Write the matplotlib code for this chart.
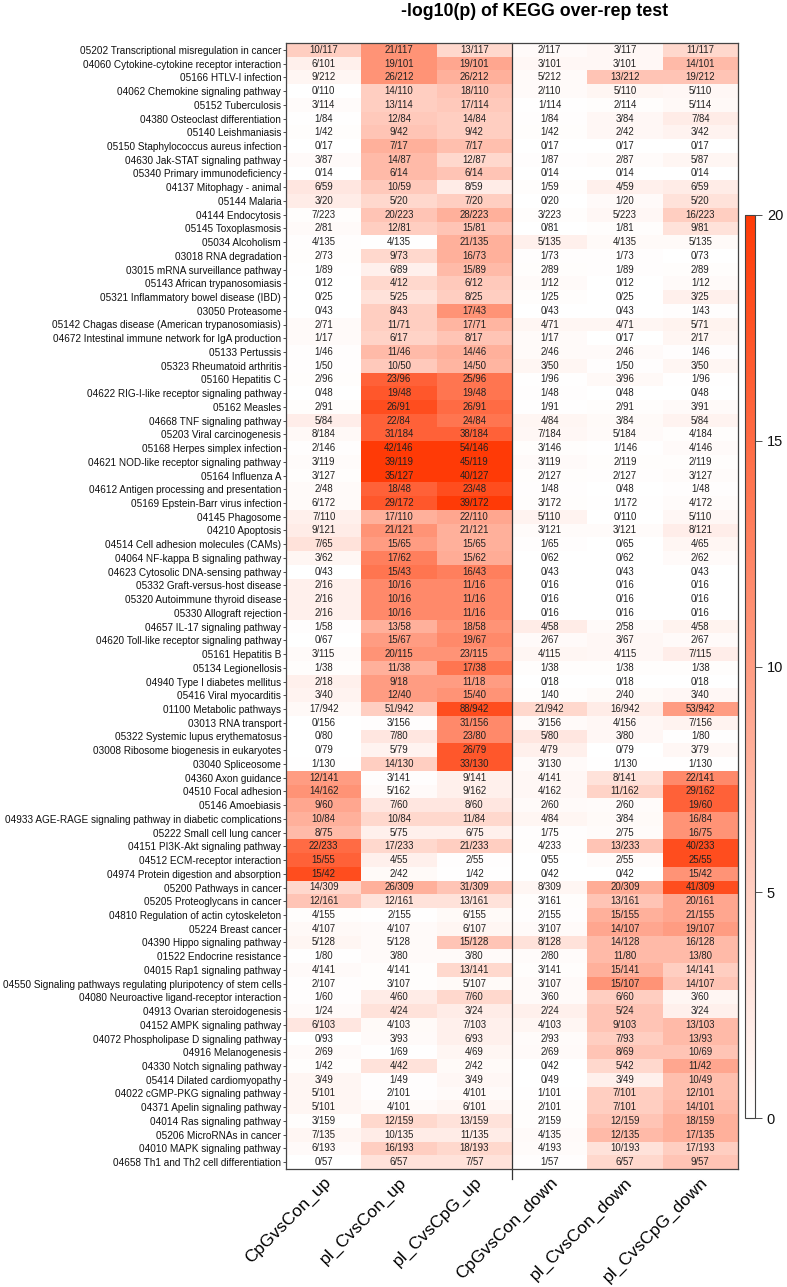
import numpy as np
import matplotlib.pyplot as plt
from matplotlib.colors import LinearSegmentedColormap

plt.rcParams['font.family'] = ['Liberation Sans', 'DejaVu Sans']

# ---- data ----
columns = ["CpGvsCon_up", "pI_CvsCon_up", "pI_CvsCpG_up",
           "CpGvsCon_down", "pI_CvsCon_down", "pI_CvsCpG_down"]

pathways = [
    "05202 Transcriptional misregulation in cancer",
    "04060 Cytokine-cytokine receptor interaction",
    "05166 HTLV-I infection",
    "04062 Chemokine signaling pathway",
    "05152 Tuberculosis",
    "04380 Osteoclast differentiation",
    "05140 Leishmaniasis",
    "05150 Staphylococcus aureus infection",
    "04630 Jak-STAT signaling pathway",
    "05340 Primary immunodeficiency",
    "04137 Mitophagy - animal",
    "05144 Malaria",
    "04144 Endocytosis",
    "05145 Toxoplasmosis",
    "05034 Alcoholism",
    "03018 RNA degradation",
    "03015 mRNA surveillance pathway",
    "05143 African trypanosomiasis",
    "05321 Inflammatory bowel disease (IBD)",
    "03050 Proteasome",
    "05142 Chagas disease (American trypanosomiasis)",
    "04672 Intestinal immune network for IgA production",
    "05133 Pertussis",
    "05323 Rheumatoid arthritis",
    "05160 Hepatitis C",
    "04622 RIG-I-like receptor signaling pathway",
    "05162 Measles",
    "04668 TNF signaling pathway",
    "05203 Viral carcinogenesis",
    "05168 Herpes simplex infection",
    "04621 NOD-like receptor signaling pathway",
    "05164 Influenza A",
    "04612 Antigen processing and presentation",
    "05169 Epstein-Barr virus infection",
    "04145 Phagosome",
    "04210 Apoptosis",
    "04514 Cell adhesion molecules (CAMs)",
    "04064 NF-kappa B signaling pathway",
    "04623 Cytosolic DNA-sensing pathway",
    "05332 Graft-versus-host disease",
    "05320 Autoimmune thyroid disease",
    "05330 Allograft rejection",
    "04657 IL-17 signaling pathway",
    "04620 Toll-like receptor signaling pathway",
    "05161 Hepatitis B",
    "05134 Legionellosis",
    "04940 Type I diabetes mellitus",
    "05416 Viral myocarditis",
    "01100 Metabolic pathways",
    "03013 RNA transport",
    "05322 Systemic lupus erythematosus",
    "03008 Ribosome biogenesis in eukaryotes",
    "03040 Spliceosome",
    "04360 Axon guidance",
    "04510 Focal adhesion",
    "05146 Amoebiasis",
    "04933 AGE-RAGE signaling pathway in diabetic complications",
    "05222 Small cell lung cancer",
    "04151 PI3K-Akt signaling pathway",
    "04512 ECM-receptor interaction",
    "04974 Protein digestion and absorption",
    "05200 Pathways in cancer",
    "05205 Proteoglycans in cancer",
    "04810 Regulation of actin cytoskeleton",
    "05224 Breast cancer",
    "04390 Hippo signaling pathway",
    "01522 Endocrine resistance",
    "04015 Rap1 signaling pathway",
    "04550 Signaling pathways regulating pluripotency of stem cells",
    "04080 Neuroactive ligand-receptor interaction",
    "04913 Ovarian steroidogenesis",
    "04152 AMPK signaling pathway",
    "04072 Phospholipase D signaling pathway",
    "04916 Melanogenesis",
    "04330 Notch signaling pathway",
    "05414 Dilated cardiomyopathy",
    "04022 cGMP-PKG signaling pathway",
    "04371 Apelin signaling pathway",
    "04014 Ras signaling pathway",
    "05206 MicroRNAs in cancer",
    "04010 MAPK signaling pathway",
    "04658 Th1 and Th2 cell differentiation",
]

# pathway size (genes in pathway)
totals = [117, 101, 212, 110, 114, 84, 42, 17, 87, 14, 59, 20, 223, 81, 135,
          73, 89, 12, 25, 43, 71, 17, 46, 50, 96, 48, 91, 84, 184, 146, 119,
          127, 48, 172, 110, 121, 65, 62, 43, 16, 16, 16, 58, 67, 115, 38, 18,
          40, 942, 156, 80, 79, 130, 141, 162, 60, 84, 75, 233, 55, 42, 309,
          161, 155, 107, 128, 80, 141, 107, 60, 24, 103, 93, 69, 42, 49, 101,
          101, 159, 135, 193, 57]

# hits per column
hits = [
    [10, 21, 13, 2, 3, 11],
    [6, 19, 19, 3, 3, 14],
    [9, 26, 26, 5, 13, 19],
    [0, 14, 18, 2, 5, 5],
    [3, 13, 17, 1, 2, 5],
    [1, 12, 14, 1, 3, 7],
    [1, 9, 9, 1, 2, 3],
    [0, 7, 7, 0, 0, 0],
    [3, 14, 12, 1, 2, 5],
    [0, 6, 6, 0, 0, 0],
    [6, 10, 8, 1, 4, 6],
    [3, 5, 7, 0, 1, 5],
    [7, 20, 28, 3, 5, 16],
    [2, 12, 15, 0, 1, 9],
    [4, 4, 21, 5, 4, 5],
    [2, 9, 16, 1, 1, 0],
    [1, 6, 15, 2, 1, 2],
    [0, 4, 6, 1, 0, 1],
    [0, 5, 8, 1, 0, 3],
    [0, 8, 17, 0, 0, 1],
    [2, 11, 17, 4, 4, 5],
    [1, 6, 8, 1, 0, 2],
    [1, 11, 14, 2, 2, 1],
    [1, 10, 14, 3, 1, 3],
    [2, 23, 25, 1, 3, 1],
    [0, 19, 19, 1, 0, 0],
    [2, 26, 26, 1, 2, 3],
    [5, 22, 24, 4, 3, 5],
    [8, 31, 38, 7, 5, 4],
    [2, 42, 54, 3, 1, 4],
    [3, 39, 45, 3, 2, 2],
    [3, 35, 40, 2, 2, 3],
    [2, 18, 23, 1, 0, 1],
    [6, 29, 39, 3, 1, 4],
    [7, 17, 22, 5, 0, 5],
    [9, 21, 21, 3, 3, 8],
    [7, 15, 15, 1, 0, 4],
    [3, 17, 15, 0, 0, 2],
    [0, 15, 16, 0, 0, 0],
    [2, 10, 11, 0, 0, 0],
    [2, 10, 11, 0, 0, 0],
    [2, 10, 11, 0, 0, 0],
    [1, 13, 18, 4, 2, 4],
    [0, 15, 19, 2, 3, 2],
    [3, 20, 23, 4, 4, 7],
    [1, 11, 17, 1, 1, 1],
    [2, 9, 11, 0, 0, 0],
    [3, 12, 15, 1, 2, 3],
    [17, 51, 88, 21, 16, 53],
    [0, 3, 31, 3, 4, 7],
    [0, 7, 23, 5, 3, 1],
    [0, 5, 26, 4, 0, 3],
    [1, 14, 33, 3, 1, 1],
    [12, 3, 9, 4, 8, 22],
    [14, 5, 9, 4, 11, 29],
    [9, 7, 8, 2, 2, 19],
    [10, 10, 11, 4, 3, 16],
    [8, 5, 6, 1, 2, 16],
    [22, 17, 21, 4, 13, 40],
    [15, 4, 2, 0, 2, 25],
    [15, 2, 1, 0, 0, 15],
    [14, 26, 31, 8, 20, 41],
    [12, 12, 13, 3, 13, 20],
    [4, 2, 6, 2, 15, 21],
    [4, 4, 6, 3, 14, 19],
    [5, 5, 15, 8, 14, 16],
    [1, 3, 3, 2, 11, 13],
    [4, 4, 13, 3, 15, 14],
    [2, 3, 5, 3, 15, 14],
    [1, 4, 7, 3, 6, 3],
    [1, 4, 3, 2, 5, 3],
    [6, 4, 7, 4, 9, 13],
    [0, 3, 6, 2, 7, 13],
    [2, 1, 4, 2, 8, 10],
    [1, 4, 2, 0, 5, 11],
    [3, 1, 3, 0, 3, 10],
    [5, 2, 4, 1, 7, 12],
    [5, 4, 6, 2, 7, 14],
    [3, 12, 13, 2, 12, 18],
    [7, 10, 11, 4, 12, 17],
    [6, 16, 18, 4, 10, 17],
    [0, 6, 7, 1, 6, 9],
]

# -log10(p) (capped at 20)
neglogp = [
    [5, 11, 4, 0.5, 0.8, 4],
    [1.5, 11, 9, 0.8, 0.8, 7],
    [1, 11, 8, 0.5, 6, 6],
    [0, 5, 6, 0.5, 1, 0.8],
    [0.4, 5, 5.5, 0.1, 0.3, 0.7],
    [0.1, 5.5, 5, 0.2, 0.8, 2],
    [0.3, 6, 5, 0.3, 0.8, 1.2],
    [0, 8, 6.5, 0, 0, 0],
    [0.5, 7, 4, 0.2, 0.4, 1],
    [0, 7, 6, 0, 0, 0],
    [2.5, 5.5, 2, 0.3, 1.5, 2],
    [2, 4, 5, 0, 0.5, 3],
    [0.3, 6, 8, 0.3, 0.8, 5],
    [0.5, 5, 6, 0, 0.3, 3],
    [0.2, 0.1, 8, 1.5, 0.6, 0.6],
    [0.3, 4, 8, 0.2, 0.2, 0],
    [0.1, 1.5, 7, 0.3, 0.2, 0.3],
    [0, 4, 5.5, 0.5, 0, 0.5],
    [0, 3, 5, 0.3, 0, 1.5],
    [0, 5, 11, 0, 0, 0.2],
    [0.5, 5, 7.5, 1, 1, 1.3],
    [0.5, 4.5, 6, 0.5, 0, 1],
    [0.2, 7, 8, 0.5, 0.5, 0.2],
    [0.2, 5.5, 7.5, 1, 0.2, 1],
    [0.3, 16, 14, 0.1, 0.7, 0.1],
    [0, 17, 14, 0.2, 0, 0],
    [0.3, 18, 15, 0.1, 0.3, 0.5],
    [1.8, 16, 14, 1, 0.6, 1.2],
    [0.7, 16, 16, 0.8, 0.5, 0.3],
    [0.2, 20, 20, 0.3, 0.1, 0.5],
    [0.4, 20, 20, 0.5, 0.3, 0.3],
    [0.3, 20, 20, 0.3, 0.2, 0.4],
    [0.5, 16, 18, 0.2, 0, 0.2],
    [0.5, 17, 20, 0.3, 0.1, 0.4],
    [1.5, 8, 9, 1.2, 0, 0.8],
    [2, 11, 8, 0.4, 0.4, 1.8],
    [3, 10, 8, 0.2, 0, 1],
    [1, 13, 8.5, 0, 0, 0.5],
    [0, 14, 13, 0, 0, 0],
    [1.5, 12, 12, 0, 0, 0],
    [1.5, 12, 12, 0, 0, 0],
    [1.5, 12, 12, 0, 0, 0],
    [0.2, 8, 11, 2, 0.5, 1.3],
    [0, 10, 12, 0.5, 0.8, 0.5],
    [0.5, 11, 11, 1, 0.8, 1.8],
    [0.3, 8, 14, 0.3, 0.3, 0.3],
    [1.5, 10, 10, 0, 0, 0],
    [1.2, 10, 11, 0.3, 0.6, 0.8],
    [0.7, 5, 18, 4, 2, 10],
    [0, 0.2, 12, 0.5, 0.8, 1.2],
    [0, 2.5, 12, 2.5, 0.8, 0.1],
    [0, 1.2, 17, 1.5, 0, 0.8],
    [0.1, 5, 17, 0.5, 0.1, 0.1],
    [10, 0.2, 1.5, 0.8, 3, 12],
    [11, 0.5, 1.5, 0.8, 4.5, 16],
    [9, 2.5, 2.5, 0.5, 0.4, 16],
    [8, 4, 4, 1, 0.6, 11],
    [7, 1.5, 1.5, 0.2, 0.4, 11],
    [15, 4, 5, 0.3, 6, 18],
    [16, 1.5, 0.2, 0, 0.4, 18],
    [18, 0.6, 0.1, 0, 0, 11],
    [4, 8, 6, 1, 8.5, 18],
    [6, 3, 3, 0.3, 6, 9],
    [0.3, 0.1, 0.6, 0.2, 8, 9],
    [0.7, 0.5, 1, 0.5, 9, 10],
    [1, 0.5, 6, 3, 7, 7],
    [0.1, 0.5, 0.5, 0.4, 7, 7],
    [0.5, 0.3, 4, 0.3, 8, 5],
    [0.2, 0.3, 0.6, 0.5, 11, 6],
    [0.2, 2, 4, 0.5, 5, 1],
    [0.5, 3, 2, 1.5, 6, 1.5],
    [2.5, 0.6, 1.5, 1, 6, 7],
    [0, 0.5, 1.5, 0.4, 5, 7],
    [0.5, 0.1, 1, 0.5, 6, 6],
    [0.3, 3, 0.6, 0, 4, 9],
    [1, 0.2, 0.8, 0, 1.5, 6.5],
    [1, 0.2, 0.5, 0.1, 5, 6.5],
    [1, 0.5, 1, 0.3, 5, 7],
    [0.3, 4, 3, 0.3, 6, 8],
    [1, 2, 2, 0.5, 7, 8],
    [0.5, 5, 4, 0.4, 3, 5],
    [0, 3, 3, 0.2, 4, 6],
]

vals = np.array(neglogp, dtype=float)
nrow, ncol = vals.shape

cmap = LinearSegmentedColormap.from_list("wr", ["#FFFFFF", "#FF3A06"])

fig = plt.figure(figsize=(7.87, 12.87), dpi=100)
W, H = 787, 1287
x0, x1, y0, y1 = 286, 738, 43, 1169
ax = fig.add_axes([x0 / W, 1 - y1 / H, (x1 - x0) / W, (y1 - y0) / H])

mesh = ax.pcolormesh(np.arange(ncol + 1), np.arange(nrow + 1), vals,
                     cmap=cmap, vmin=0, vmax=20, shading="flat")
ax.set_xlim(0, ncol)
ax.set_ylim(nrow, 0)

for i in range(nrow):
    for j in range(ncol):
        ax.text(j + 0.5, i + 0.5, f"{hits[i][j]}/{totals[i]}",
                ha="center", va="center", fontsize=6.9, color="#222222")

ax.set_yticks(np.arange(nrow) + 0.5)
ax.set_yticklabels(pathways, fontsize=7.2)
ax.tick_params(axis="y", length=2, width=0.6, pad=1.5, colors="#333333",
               labelcolor="#111111")
ax.set_xticks(np.arange(ncol) + 0.5)
ax.set_xticklabels(columns, fontsize=12.5, rotation=45,
                   ha="right", va="top", rotation_mode="anchor")
ax.tick_params(axis="x", length=0, pad=4)
for s in ax.spines.values():
    s.set_color("#444444")
    s.set_linewidth(0.9)

# separator between up and down groups
ax.plot([3, 3], [0, nrow + 0.75], color="#333333", lw=0.9, clip_on=False)

fig.text(535 / W, 1 - 12 / H, "-log10(p) of KEGG over-rep test",
         ha="center", va="center", fontsize=12.8, fontweight="bold")

cb_top, cb_bot = 215, 1118
cax = fig.add_axes([745 / W, 1 - cb_bot / H, 10 / W, (cb_bot - cb_top) / H])
cb = fig.colorbar(mesh, cax=cax, ticks=[0, 5, 10, 15, 20])
cb.outline.set_edgecolor("#444444")
cb.outline.set_linewidth(0.8)
cax.tick_params(labelsize=10.5, length=5, width=0.6, colors="#333333",
                labelcolor="#111111")

fig.savefig("out.png", dpi=100)
